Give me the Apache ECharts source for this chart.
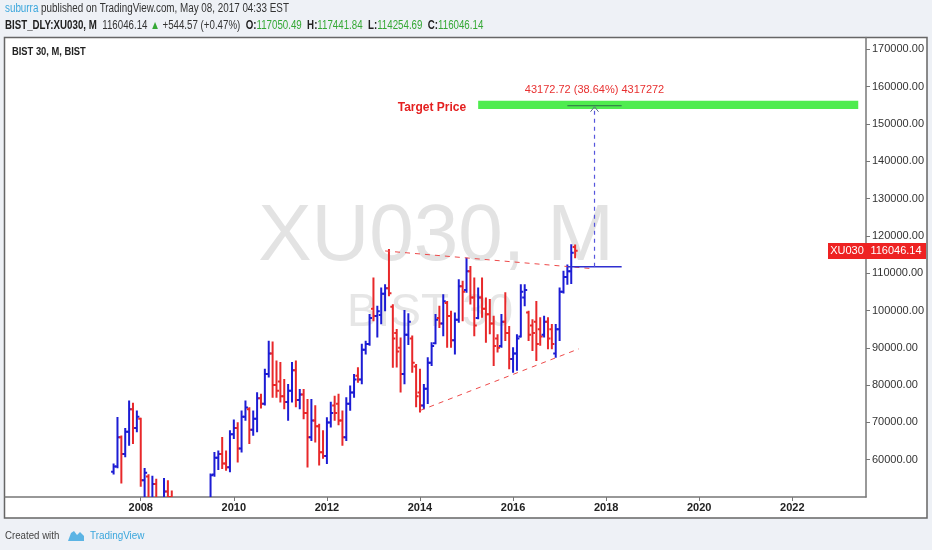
<!DOCTYPE html>
<html>
<head>
<meta charset="utf-8">
<title>BIST 30, M</title>
<script src="https://cdn.jsdelivr.net/npm/echarts@6/dist/echarts.min.js"></script>
<style>
  html, body { margin: 0; padding: 0; background: #eef1f6; }
  #chart { width: 932px; height: 550px; }
</style>
</head>
<body>
<div id="chart"></div>
<script>
// monthly bars (2008-10 .. 2009-06 sit below the visible range)
const barMonths = [
    "2007-06", "2007-07", "2007-08", "2007-09", "2007-10", "2007-11", "2007-12",
    "2008-01", "2008-02", "2008-03", "2008-04", "2008-05", "2008-06", "2008-07", "2008-08", "2008-09", "2008-10", "2008-11", "2008-12",
    "2009-01", "2009-02", "2009-03", "2009-04", "2009-05", "2009-06", "2009-07", "2009-08", "2009-09", "2009-10", "2009-11", "2009-12",
    "2010-01", "2010-02", "2010-03", "2010-04", "2010-05", "2010-06", "2010-07", "2010-08", "2010-09", "2010-10", "2010-11", "2010-12",
    "2011-01", "2011-02", "2011-03", "2011-04", "2011-05", "2011-06", "2011-07", "2011-08", "2011-09", "2011-10", "2011-11", "2011-12",
    "2012-01", "2012-02", "2012-03", "2012-04", "2012-05", "2012-06", "2012-07", "2012-08", "2012-09", "2012-10", "2012-11", "2012-12",
    "2013-01", "2013-02", "2013-03", "2013-04", "2013-05", "2013-06", "2013-07", "2013-08", "2013-09", "2013-10", "2013-11", "2013-12",
    "2014-01", "2014-02", "2014-03", "2014-04", "2014-05", "2014-06", "2014-07", "2014-08", "2014-09", "2014-10", "2014-11", "2014-12",
    "2015-01", "2015-02", "2015-03", "2015-04", "2015-05", "2015-06", "2015-07", "2015-08", "2015-09", "2015-10", "2015-11", "2015-12",
    "2016-01", "2016-02", "2016-03", "2016-04", "2016-05", "2016-06", "2016-07", "2016-08", "2016-09", "2016-10", "2016-11", "2016-12",
    "2017-01", "2017-02", "2017-03", "2017-04", "2017-05",
];
const opens = [
    56800, 58200, 66000, 61500, 67500, 73500, 68500,
    71000, 54500, 55500, 46000, 53500, 48000, 41500, 51500, 50000, 43000, 33500, 31500,
    32500, 31500, 30000, 31500, 39000, 44000, 46000, 56000, 60500, 61500, 59000, 58000,
    66800, 68500, 63000, 71500, 73500, 68000, 71000, 76500, 75000, 83000, 88500, 80000,
    81000, 77000, 75500, 78500, 84000, 76000, 77500, 72500, 66000, 70500, 69000, 62000,
    61000, 70000, 74500, 75000, 70500, 66000, 75000, 78000, 82500, 81500, 89500, 91000,
    100500, 98500, 98800, 104500, 106000, 101000, 94000, 90000, 83000, 93500, 92500, 85000,
    78000, 74500, 79000, 86000, 91200, 98000, 96500, 102000, 98500, 92000, 97500, 106500,
    105500, 110500, 103500, 98000, 103500, 100500, 99000, 96500, 92500, 90500, 97000, 94000,
    87000, 88500, 93000, 103500, 99500, 96000, 97000, 95000, 93500, 97000, 95000, 88500,
    95000, 105000, 109000, 110500, 117050.49,
];
const highs = [
    58700, 71150, 66200, 68200, 75600, 75000, 72900,
    71000, 57500, 55800, 55400, 54600, 49000, 54800, 54200, 51500, 44500, 35500, 33500,
    35500, 32500, 32500, 40000, 45000, 47500, 56000, 61800, 62200, 65800, 62200, 67600,
    70500, 69800, 72900, 75600, 73800, 72900, 77800, 77400, 84100, 91600, 91400, 86300,
    85900, 81400, 80000, 85900, 86300, 78700, 78700, 76000, 76000, 74300, 69400, 67600,
    71100, 75300, 76900, 77400, 72900, 76500, 79600, 82700, 84500, 90800, 91600, 98800,
    108600, 101000, 105900, 106800, 116200, 101400, 94800, 92500, 99900, 99000, 93000, 85400,
    84100, 80000, 87200, 91200, 98800, 101000, 104100, 102300, 99700, 99200, 108100, 107700,
    113900, 111700, 108600, 105900, 108600, 103200, 102800, 98300, 93400, 98800, 104600, 95600,
    89900, 93400, 106800, 106800, 99700, 97400, 102300, 97900, 98300, 97900, 96100, 96100,
    105900, 110400, 112100, 117500, 117441.84,
];
const lows = [
    56300, 58000, 53900, 60900, 64000, 64500, 67600,
    53000, 50000, 44000, 45500, 47000, 40500, 40000, 48500, 40000, 30000, 28500, 29500,
    30500, 28500, 27500, 31000, 38000, 41000, 45500, 55700, 57500, 57800, 57300, 56900,
    65800, 59500, 62200, 70700, 64500, 66700, 67600, 74000, 74800, 82300, 76900, 76900,
    75600, 73800, 70700, 75600, 74300, 73800, 71100, 58200, 65300, 64900, 58700, 60500,
    59100, 68900, 70700, 69500, 64000, 65300, 73400, 76900, 80900, 80500, 88500, 90800,
    97400, 93000, 96600, 100100, 104100, 84900, 85000, 78300, 80500, 91000, 83600, 74300,
    72900, 73800, 75200, 85400, 91200, 95600, 93400, 90300, 90300, 88500, 97000, 97400,
    105000, 101900, 93400, 97900, 98300, 91600, 93900, 85400, 89000, 90300, 92100, 84500,
    83600, 84100, 93000, 101400, 92100, 89400, 86700, 90800, 93000, 89900, 89900, 87600,
    92100, 104800, 107200, 107400, 114254.69,
];
const closes = [
    58200, 66000, 61500, 67500, 73500, 68500, 71500,
    54500, 56500, 46000, 53500, 48000, 41500, 51500, 50000, 43000, 33500, 31500, 32500,
    31500, 30000, 31500, 39000, 44000, 46000, 55800, 60500, 61500, 59000, 58000, 66800,
    68500, 63000, 71500, 74000, 68000, 71000, 76500, 75000, 83000, 88500, 80000, 78500,
    77000, 75500, 78500, 84000, 76000, 77500, 72500, 66000, 70500, 69000, 62000, 61000,
    70000, 72500, 72500, 70500, 66000, 75000, 78000, 81500, 81500, 89500, 91000, 98000,
    98500, 99800, 104500, 106000, 104600, 92500, 89000, 83000, 93500, 97000, 86000, 77000,
    74500, 79000, 86000, 90500, 97500, 96500, 102500, 98500, 92000, 97500, 106500, 105000,
    110500, 103500, 96000, 103500, 100500, 99000, 96500, 90500, 90000, 97000, 94000, 87000,
    88500, 92500, 105000, 105500, 93500, 94000, 91000, 93000, 97000, 92500, 91000, 95000,
    105000, 109000, 110500, 115501.57, 116046.14,
];

// drawings on the chart
const upperTrend = [["2013-04", 115970], ["2017-09", 111260]];
const lowerTrend = [["2014-01", 73180], ["2017-06", 89740]];
const targetZone = ["2015-04", "2023-06", 154000, 156250];
const targetLabel = ["2015-04", 154900, "Target Price"];
const priceRange = ["2017-03", "2018-05", "2017-10", 111730, 154902.72];
const priceRangeText = "43172.72 (38.64%) 4317272";
const lastPrice = ["2017-05", 116046.14, "XU030", "116046.14"];
const yearLabels = ["2008", "2010", "2012", "2014", "2016", "2018", "2020", "2022"];
const firstMonth = "2005-02";
const lastMonth = "2023-08";

const upColor = "#1c1cd4";
const downColor = "#e8282a";
const font = '"Liberation Sans", Arial, sans-serif';

const axisMonths = [];
for (let y = 2005; y <= 2023; y++) {
    for (let m = 1; m <= 12; m++) {
        const s = `${y}-${String(m).padStart(2, "0")}`;
        if (s >= firstMonth && s <= lastMonth) axisMonths.push(s);
    }
}
const at = (month) => axisMonths.indexOf(month);
const isYearTick = (i, v) => v.endsWith("-01") && yearLabels.includes(v.slice(0, 4));

function renderBar(params, api) {
    const x = api.value(0);
    const o = api.coord([x, api.value(1)]);
    const h = api.coord([x, api.value(2)]);
    const l = api.coord([x, api.value(3)]);
    const c = api.coord([x, api.value(4)]);
    const tick = 2.5;
    const color = api.value(4) >= api.value(1) ? upColor : downColor;
    const style = { stroke: color, lineWidth: 2 };
    return {
        type: "group",
        children: [
            { type: "line", shape: { x1: h[0], y1: h[1] - 1, x2: l[0], y2: l[1] + 1 }, style },
            { type: "line", shape: { x1: o[0] - tick, y1: o[1], x2: o[0], y2: o[1] }, style },
            { type: "line", shape: { x1: c[0], y1: c[1], x2: c[0] + tick, y2: c[1] }, style },
        ],
    };
}

function renderZone(params, api) {
    const a = api.coord([api.value(0), api.value(3)]);
    const b = api.coord([api.value(1), api.value(2)]);
    return {
        type: "rect",
        shape: { x: a[0], y: a[1], width: b[0] - a[0], height: b[1] - a[1] },
        style: { fill: "#4fec4f" },
    };
}

function renderRange(params, api) {
    const bl = api.coord([api.value(0), api.value(3)]);
    const br = api.coord([api.value(1), api.value(3)]);
    const tl = api.coord([api.value(0), api.value(4)]);
    const tr = api.coord([api.value(1), api.value(4)]);
    const mb = api.coord([api.value(2), api.value(3)]);
    const mt = api.coord([api.value(2), api.value(4)]);
    return {
        type: "group",
        children: [
            { type: "line", shape: { x1: bl[0], y1: bl[1], x2: br[0], y2: br[1] }, style: { stroke: "#2f2fd0", lineWidth: 1.5 } },
            { type: "line", shape: { x1: tl[0], y1: tl[1], x2: tr[0], y2: tr[1] }, style: { stroke: "#2e6a48", lineWidth: 1 } },
            { type: "line", shape: { x1: mb[0], y1: mb[1], x2: mt[0], y2: mt[1] + 1 }, style: { stroke: "#5555dd", lineWidth: 1.2, lineDash: [4, 4] } },
            { type: "polyline", shape: { points: [[mt[0] - 4, mt[1] + 6], [mt[0], mt[1] + 1], [mt[0] + 4, mt[1] + 6]] }, style: { stroke: "#5a6a8a", lineWidth: 1, fill: null } },
            { type: "text", x: mt[0], y: mt[1] - 16, style: { text: priceRangeText, fill: "#e83030", font: `11px ${font}`, align: "center", verticalAlign: "middle" } },
        ],
    };
}

function renderNote(params, api) {
    const p = api.coord([api.value(0), api.value(1)]);
    return {
        type: "text",
        x: p[0] - 12,
        y: p[1] + 2,
        style: { text: targetLabel[2], fill: "#e42020", font: `bold 12px ${font}`, align: "right", verticalAlign: "middle" },
    };
}

function renderLastPrice(params, api) {
    const cs = params.coordSys;
    const p = api.coord([api.value(0), api.value(1)]);
    const right = cs.x + cs.width;
    const y = Math.round(p[1]) - 8;
    return {
        type: "group",
        children: [
            { type: "rect", shape: { x: right - 38, y, width: 38, height: 16 }, style: { fill: "#ee2222" } },
            { type: "text", x: right - 19, y: y + 8, style: { text: lastPrice[2], fill: "#fff", font: `11px ${font}`, align: "center", verticalAlign: "middle" } },
            { type: "rect", shape: { x: right, y, width: 60, height: 16 }, style: { fill: "#ee2222" } },
            { type: "text", x: right + 30, y: y + 8, style: { text: lastPrice[3], fill: "#fff", font: `11px ${font}`, align: "center", verticalAlign: "middle" } },
        ],
    };
}

const bars = barMonths.map((m, i) => [at(m), opens[i], highs[i], lows[i], closes[i]]);

let chartOption = {
    backgroundColor: "#ffffff",
    animation: false,
    grid: { left: 5, right: 66, top: 37.5, bottom: 53 },
    xAxis: {
        type: "category",
        data: axisMonths,
        boundaryGap: false,
        axisLine: { lineStyle: { color: "#777", width: 1.5 } },
        axisTick: { interval: isYearTick, length: 4, lineStyle: { color: "#777" } },
        axisLabel: {
            interval: isYearTick,
            formatter: (v) => v.slice(0, 4),
            color: "#222",
            fontSize: 11,
            fontWeight: "bold",
            fontFamily: font,
            margin: 5,
        },
        splitLine: { show: false },
    },
    yAxis: {
        type: "value",
        position: "right",
        min: 50000,
        max: 173200,
        interval: 10000,
        axisLine: { show: true, lineStyle: { color: "#777", width: 1.5 } },
        axisTick: { show: true, length: 4, lineStyle: { color: "#777" } },
        axisLabel: {
            showMinLabel: false,
            showMaxLabel: false,
            formatter: (v) => v.toFixed(2),
            color: "#333",
            fontSize: 11,
            fontFamily: font,
            margin: 6,
        },
        splitLine: { show: false },
    },
    graphic: [
        { type: "rect", shape: { x: 0, y: 0, width: 932, height: 37 }, style: { fill: "#eef1f6" } },
        { type: "rect", shape: { x: 0, y: 518, width: 932, height: 32 }, style: { fill: "#eef1f6" } },
        { type: "rect", shape: { x: 0, y: 0, width: 4, height: 550 }, style: { fill: "#eef1f6" } },
        { type: "rect", shape: { x: 927, y: 0, width: 5, height: 550 }, style: { fill: "#eef1f6" } },
        { type: "rect", shape: { x: 4.5, y: 37.5, width: 922.5, height: 480.5 }, style: { fill: null, stroke: "#666", lineWidth: 1.5 } },
        { type: "text", x: 436, y: 238, style: { text: "XU030, M", fill: "#e3e3e3", font: `80px ${font}`, align: "center", verticalAlign: "middle" } },
        { type: "text", x: 430, y: 313, style: { text: "BIST 30", fill: "#e6e6e6", font: `46px ${font}`, align: "center", verticalAlign: "middle" } },
        { type: "text", x: 12, y: 46, scaleX: 0.85, style: { text: "BIST 30, M, BIST", fill: "#222", font: `bold 11px ${font}` } },
        {
            type: "text",
            x: 5,
            y: 3,
            scaleX: 0.82,
            style: {
                text: "{u|suburra} published on TradingView.com, May 08, 2017 04:33 EST",
                fill: "#333",
                font: `12px ${font}`,
                rich: { u: { fill: "#3aa6dc", color: "#3aa6dc", font: `12px ${font}` } },
            },
        },
        {
            type: "text",
            x: 5,
            y: 20,
            scaleX: 0.81,
            style: {
                text: "{b|BIST_DLY:XU030, M}  116046.14 {g|▲} +544.57 (+0.47%)  {b|O:}{g|117050.49}  {b|H:}{g|117441.84}  {b|L:}{g|114254.69}  {b|C:}{g|116046.14}",
                fill: "#333",
                font: `12px ${font}`,
                rich: {
                    b: { fill: "#222", color: "#222", font: `bold 12px ${font}` },
                    g: { fill: "#35a835", color: "#35a835", font: `12px ${font}` },
                },
            },
        },
        { type: "text", x: 5, y: 530, scaleX: 0.88, style: { text: "Created with", fill: "#444", font: `11px ${font}` } },
        {
            type: "polygon",
            shape: { points: [[68, 541], [71, 533], [74, 531], [77, 535], [80, 532], [84, 536], [84, 541]] },
            style: { fill: "#5bb4e4" },
        },
        { type: "text", x: 90, y: 530, scaleX: 0.9, style: { text: "TradingView", fill: "#3aa6dc", font: `11px ${font}` } },
    ],
    series: [
        {
            type: "custom",
            name: "target",
            renderItem: renderZone,
            encode: { x: [0, 1], y: [2, 3] },
            data: [[at(targetZone[0]), at(targetZone[1]), targetZone[2], targetZone[3]]],
            z: 1,
        },
        {
            type: "custom",
            name: "XU030",
            renderItem: renderBar,
            clip: true,
            encode: { x: 0, y: [1, 2, 3, 4] },
            data: bars,
            z: 3,
        },
        {
            type: "line",
            name: "upper",
            data: upperTrend.map(([m, v]) => [at(m), v]),
            symbol: "none",
            lineStyle: { color: "#ee4a4a", width: 1, type: [5, 5] },
            z: 4,
        },
        {
            type: "line",
            name: "lower",
            data: lowerTrend.map(([m, v]) => [at(m), v]),
            symbol: "none",
            lineStyle: { color: "#ee4a4a", width: 1, type: [5, 5] },
            z: 4,
        },
        {
            type: "custom",
            name: "range",
            renderItem: renderRange,
            encode: { x: [0, 1, 2], y: [3, 4] },
            data: [[at(priceRange[0]), at(priceRange[1]), at(priceRange[2]), priceRange[3], priceRange[4]]],
            z: 5,
        },
        {
            type: "custom",
            name: "note",
            renderItem: renderNote,
            encode: { x: 0, y: 1 },
            data: [[at(targetLabel[0]), targetLabel[1]]],
            z: 5,
        },
        {
            type: "custom",
            name: "last",
            renderItem: renderLastPrice,
            clip: false,
            encode: { x: 0, y: 1 },
            data: [[at(lastPrice[0]), lastPrice[1]]],
            z: 6,
        },
    ],
};

const chart = echarts.init(document.getElementById("chart"));
chart.setOption(chartOption);
</script>
</body>
</html>
